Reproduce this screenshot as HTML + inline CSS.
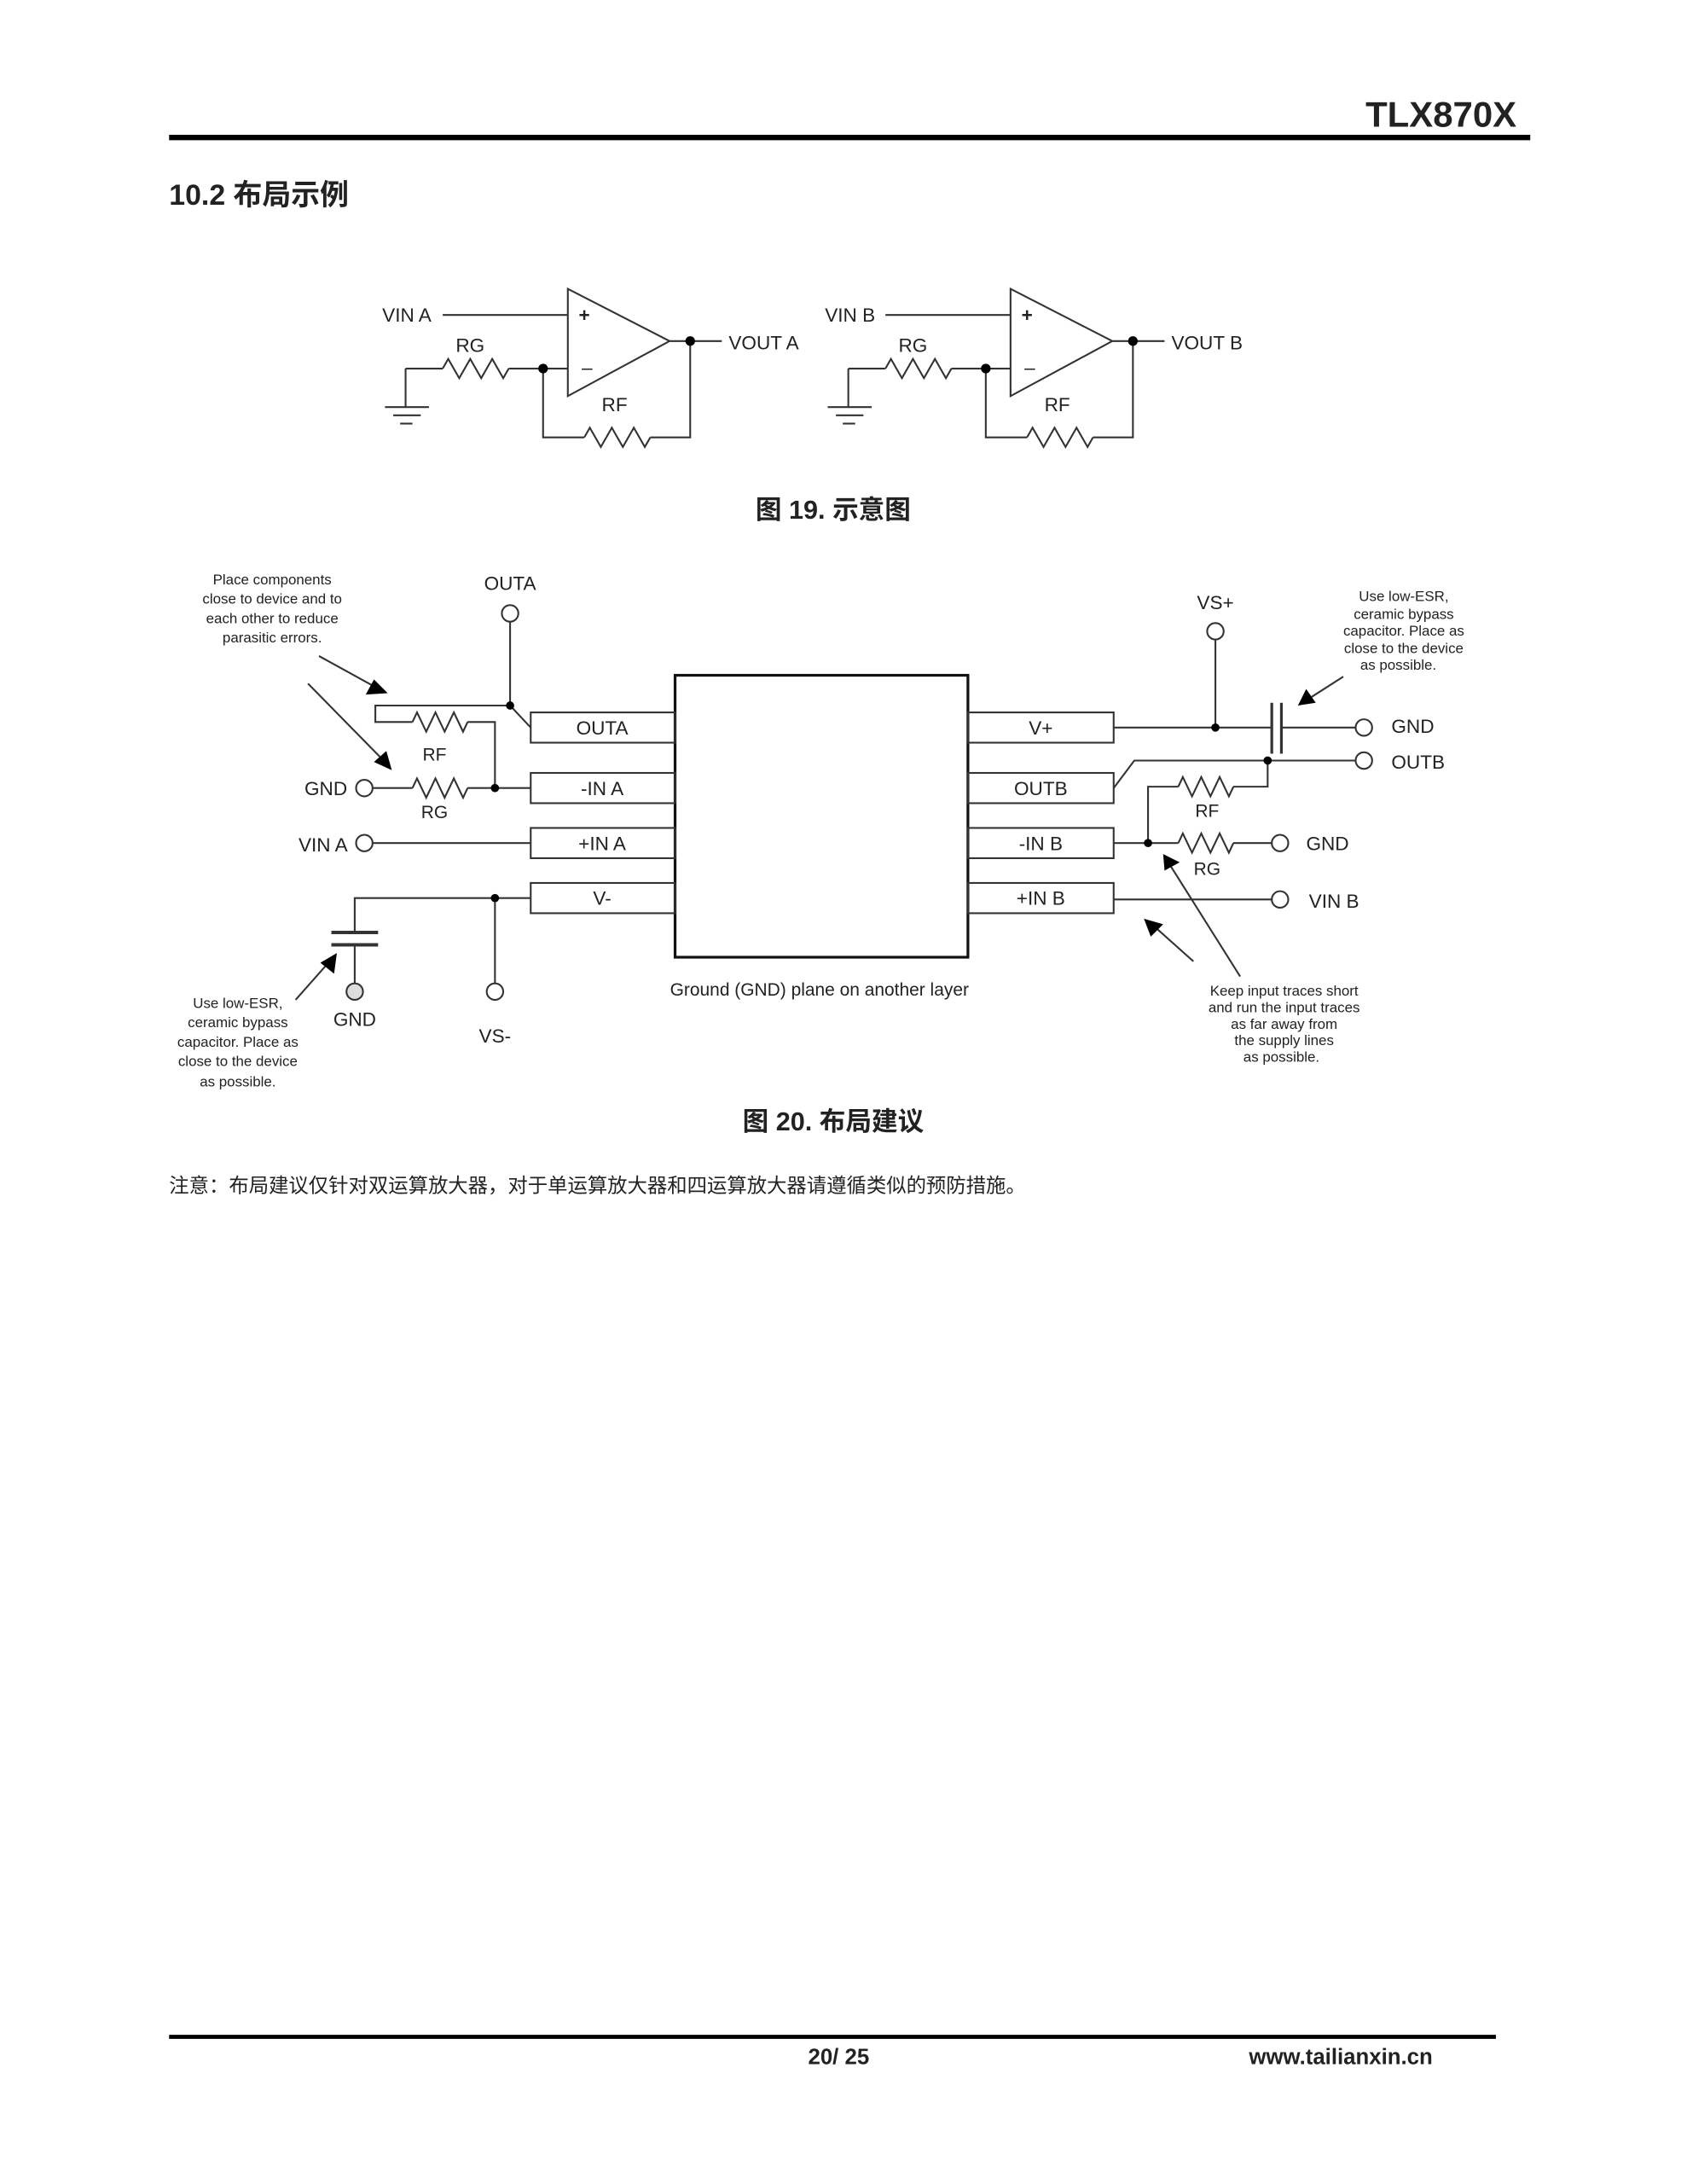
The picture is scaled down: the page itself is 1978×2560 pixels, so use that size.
<!DOCTYPE html>
<html><head><meta charset="utf-8"><style>
html,body{margin:0;padding:0;background:#fff}
svg{display:block}
text{font-family:"Liberation Sans","Noto Sans CJK SC",sans-serif;fill:#222}
</style></head><body>
<svg width="1978" height="2560" viewBox="0 0 1227 1588" preserveAspectRatio="none" xmlns="http://www.w3.org/2000/svg">
<g stroke="#333" fill="none" stroke-width="1.3">
<!-- header -->
<line x1="123" y1="100" x2="1113" y2="100" stroke="#000" stroke-width="4"/>
<line x1="123" y1="1481" x2="1088" y2="1481" stroke="#000" stroke-width="3"/>

<!-- opamp A -->
<polygon points="413,210 413,288 487,248"/>
<line x1="322" y1="229" x2="413" y2="229"/>
<line x1="487" y1="248" x2="525" y2="248"/>
<line x1="295" y1="268" x2="322" y2="268"/>
<path d="M322 268 l4 -7 l8 14 l8 -14 l8 14 l8 -14 l8 14 l4 -7"/>
<line x1="370" y1="268" x2="413" y2="268"/>
<line x1="295" y1="268" x2="295" y2="296"/>
<line x1="280" y1="296" x2="312" y2="296"/><line x1="286" y1="302" x2="306" y2="302"/><line x1="291" y1="308" x2="300" y2="308"/>
<polyline points="395,268 395,318 425,318"/>
<path d="M425 318 l4 -7 l8 14 l8 -14 l8 14 l8 -14 l8 14 l4 -7"/>
<polyline points="473,318 502,318 502,248"/>
<!-- opamp B -->
<g transform="translate(322,0)">
<polygon points="413,210 413,288 487,248"/>
<line x1="322" y1="229" x2="413" y2="229"/>
<line x1="487" y1="248" x2="525" y2="248"/>
<line x1="295" y1="268" x2="322" y2="268"/>
<path d="M322 268 l4 -7 l8 14 l8 -14 l8 14 l8 -14 l8 14 l4 -7"/>
<line x1="370" y1="268" x2="413" y2="268"/>
<line x1="295" y1="268" x2="295" y2="296"/>
<line x1="280" y1="296" x2="312" y2="296"/><line x1="286" y1="302" x2="306" y2="302"/><line x1="291" y1="308" x2="300" y2="308"/>
<polyline points="395,268 395,318 425,318"/>
<path d="M425 318 l4 -7 l8 14 l8 -14 l8 14 l8 -14 l8 14 l4 -7"/>
<polyline points="473,318 502,318 502,248"/>
</g>

<!-- chip -->
<rect x="491" y="491" width="213" height="205" stroke="#111" stroke-width="2"/>
<rect x="386" y="518" width="105" height="22"/>
<rect x="386" y="562" width="105" height="22"/>
<rect x="386" y="602" width="105" height="22"/>
<rect x="386" y="642" width="105" height="22"/>
<rect x="704" y="518" width="106" height="22"/>
<rect x="704" y="562" width="106" height="22"/>
<rect x="704" y="602" width="106" height="22"/>
<rect x="704" y="642" width="106" height="22"/>

<!-- left side -->
<circle cx="371" cy="446" r="6"/>
<line x1="371" y1="452" x2="371" y2="513"/>
<line x1="371" y1="513" x2="386" y2="529"/>
<polyline points="371,513 273,513 273,525 300,525"/>
<path d="M300 525 l3.3 -7 l6.7 14 l6.7 -14 l6.7 14 l6.7 -14 l6.7 14 l3.3 -7"/>
<polyline points="340,525 360,525 360,573"/>
<circle cx="265" cy="573" r="6"/>
<line x1="271" y1="573" x2="300" y2="573"/>
<path d="M300 573 l3.3 -7 l6.7 14 l6.7 -14 l6.7 14 l6.7 -14 l6.7 14 l3.3 -7"/>
<line x1="340" y1="573" x2="386" y2="573"/>
<circle cx="265" cy="613" r="6"/>
<line x1="271" y1="613" x2="386" y2="613"/>
<polyline points="386,653 258,653 258,678"/>
<line x1="241" y1="678" x2="275" y2="678" stroke-width="2.5"/>
<line x1="241" y1="687" x2="275" y2="687" stroke-width="2.5"/>
<line x1="258" y1="687" x2="258" y2="715"/>
<circle cx="258" cy="721" r="6" fill="#ddd"/>
<line x1="360" y1="653" x2="360" y2="715"/>
<circle cx="360" cy="721" r="6"/>
<line x1="232" y1="477" x2="272" y2="499"/>
<line x1="224" y1="497" x2="278" y2="552"/>
<line x1="215" y1="727" x2="238" y2="701"/>

<!-- right side -->
<line x1="810" y1="529" x2="925" y2="529"/>
<circle cx="884" cy="459" r="6"/>
<line x1="884" y1="465" x2="884" y2="529"/>
<line x1="925" y1="511" x2="925" y2="548" stroke-width="2"/>
<line x1="932" y1="511" x2="932" y2="548" stroke-width="2"/>
<line x1="932" y1="529" x2="986" y2="529"/>
<circle cx="992" cy="529" r="6"/>
<polyline points="810,573 825,553 986,553"/>
<circle cx="992" cy="553" r="6"/>
<polyline points="922,553 922,572 897,572"/>
<path d="M857 572 l3.3 -7 l6.7 14 l6.7 -14 l6.7 14 l6.7 -14 l6.7 14 l3.3 -7"/>
<polyline points="857,572 835,572 835,613"/>
<line x1="810" y1="613" x2="857" y2="613"/>
<path d="M857 613 l3.3 -7 l6.7 14 l6.7 -14 l6.7 14 l6.7 -14 l6.7 14 l3.3 -7"/>
<line x1="897" y1="613" x2="925" y2="613"/>
<circle cx="931" cy="613" r="6"/>
<line x1="810" y1="654" x2="925" y2="654"/>
<circle cx="931" cy="654" r="6"/>
<line x1="977" y1="492" x2="952" y2="508"/>
<line x1="868" y1="699" x2="840" y2="674"/>
<line x1="902" y1="710" x2="851" y2="629"/>
</g>
<g fill="#000">
<circle cx="502" cy="248" r="3.5"/><circle cx="395" cy="268" r="3.5"/>
<circle cx="824" cy="248" r="3.5"/><circle cx="717" cy="268" r="3.5"/>
<circle cx="371" cy="513" r="3"/><circle cx="360" cy="573" r="3"/><circle cx="360" cy="653" r="3"/>
<circle cx="884" cy="529" r="3"/><circle cx="922" cy="553" r="3"/><circle cx="835" cy="613" r="3"/>
<polygon points="282,504 266,505 272,494"/>
<polygon points="285,560 272,554 281,546"/>
<polygon points="245,693 243,708 233,700"/>
<polygon points="944,513 950,501 957,511"/>
<polygon points="832,668 846,672 837,681"/>
<polygon points="846,621 858,627 847,633"/>
</g>
<g font-size="14">
<text x="1103" y="92" font-size="26" font-weight="bold" text-anchor="end" fill="#111">TLX870X</text>
<text x="123" y="149" font-size="21" font-weight="bold" fill="#111">10.2 布局示例</text>
<text x="278" y="234">VIN A</text><text x="600" y="234">VIN B</text>
<text x="530" y="254">VOUT A</text><text x="852" y="254">VOUT B</text>
<text x="342" y="256" text-anchor="middle">RG</text><text x="664" y="256" text-anchor="middle">RG</text>
<text x="447" y="299" text-anchor="middle">RF</text><text x="769" y="299" text-anchor="middle">RF</text>
<text x="425" y="234" text-anchor="middle" font-weight="bold">+</text><text x="747" y="234" text-anchor="middle" font-weight="bold">+</text>
<text x="427" y="272" text-anchor="middle">–</text><text x="749" y="272" text-anchor="middle">–</text>
<text x="606" y="377" text-anchor="middle" font-size="19" font-weight="bold" fill="#111">图 19. 示意图</text>

<text x="371" y="429" text-anchor="middle">OUTA</text>
<text x="438" y="534" text-anchor="middle">OUTA</text>
<text x="438" y="578" text-anchor="middle">-IN A</text>
<text x="438" y="618" text-anchor="middle">+IN A</text>
<text x="438" y="658" text-anchor="middle">V-</text>
<text x="757" y="534" text-anchor="middle">V+</text>
<text x="757" y="578" text-anchor="middle">OUTB</text>
<text x="757" y="618" text-anchor="middle">-IN B</text>
<text x="757" y="658" text-anchor="middle">+IN B</text>
<text x="237" y="578" text-anchor="middle">GND</text>
<text x="235" y="619" text-anchor="middle">VIN A</text>
<text x="316" y="553" text-anchor="middle" font-size="13">RF</text>
<text x="316" y="595" text-anchor="middle" font-size="13">RG</text>
<text x="258" y="746" text-anchor="middle">GND</text>
<text x="360" y="758" text-anchor="middle">VS-</text>
<text x="884" y="443" text-anchor="middle">VS+</text>
<text x="1012" y="533">GND</text>
<text x="1012" y="559">OUTB</text>
<text x="950" y="618">GND</text>
<text x="952" y="660">VIN B</text>
<text x="878" y="594" text-anchor="middle" font-size="13">RF</text>
<text x="878" y="636" text-anchor="middle" font-size="13">RG</text>
<text x="596" y="724" text-anchor="middle" font-size="13">Ground (GND) plane on another layer</text>
</g>
<g font-size="10.5" text-anchor="middle">
<text x="198" y="425">Place components</text>
<text x="198" y="439">close to device and to</text>
<text x="198" y="453">each other to reduce</text>
<text x="198" y="467">parasitic errors.</text>
<text x="173" y="733">Use low-ESR,</text>
<text x="173" y="747">ceramic bypass</text>
<text x="173" y="761">capacitor. Place as</text>
<text x="173" y="775">close to the device</text>
<text x="173" y="790">as possible.</text>
<text x="1021" y="437">Use low-ESR,</text>
<text x="1021" y="450">ceramic bypass</text>
<text x="1021" y="462">capacitor. Place as</text>
<text x="1021" y="475">close to the device</text>
<text x="1017" y="487">as possible.</text>
<text x="934" y="724">Keep input traces short</text>
<text x="934" y="736">and run the input traces</text>
<text x="934" y="748">as far away from</text>
<text x="934" y="760">the supply lines</text>
<text x="932" y="772">as possible.</text>
</g>
<text x="606" y="822" text-anchor="middle" font-size="19" font-weight="bold" fill="#111">图 20. 布局建议</text>
<text x="123" y="867" font-size="14.5">注意：布局建议仅针对双运算放大器，对于单运算放大器和四运算放大器请遵循类似的预防措施。</text>
<text x="610" y="1501" text-anchor="middle" font-size="16" font-weight="bold" fill="#111">20/ 25</text>
<text x="1042" y="1501" text-anchor="end" font-size="16" font-weight="bold" fill="#111">www.tailianxin.cn</text>
</svg>
</body></html>
